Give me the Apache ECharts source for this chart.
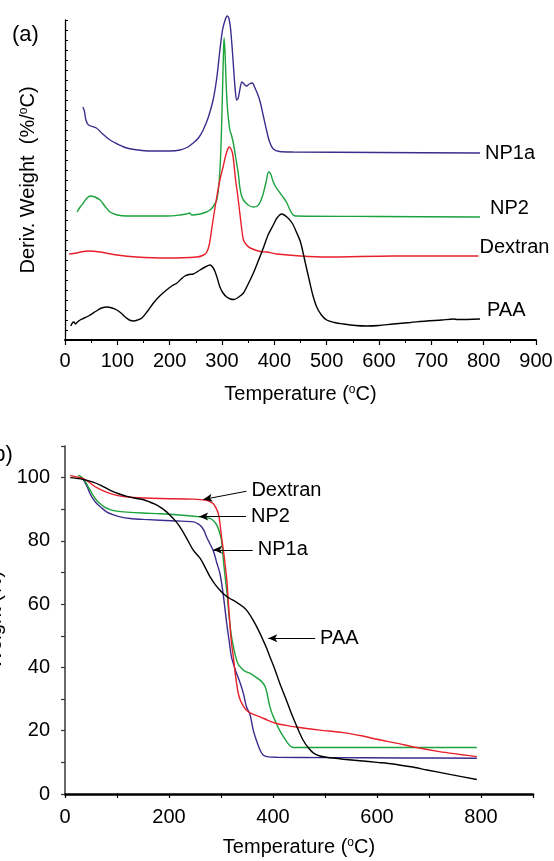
<!DOCTYPE html>
<html><head><meta charset="utf-8">
<script src="https://cdn.jsdelivr.net/npm/echarts@6/dist/echarts.min.js"></script>
<style>html,body{margin:0;padding:0;background:#fff;overflow:hidden}#c{width:554px;height:861px}</style>
</head><body><div id="c"></div>
<script>
const FONT = '"Liberation Sans", Arial, sans-serif';
const seriesNames = ['NP1a', 'NP2', 'Dextran', 'PAA'];
const seriesColors = ['#3d2c8d', '#1aa33c', '#e8202a', '#000000'];
const xTicksTop = [0, 100, 200, 300, 400, 500, 600, 700, 800, 900];
const xTicksBottom = [0, 200, 400, 600, 800];
const yTicksBottom = [0, 20, 40, 60, 80, 100];

// (a) derivative weight curves, vertically offset (arbitrary units)
const derivNP1a = [[34,23.3],[37,22.9],[40,22.0],[45,21.5],[60,21.2],[72,20.6],[86,20.0],[100,19.6],[118,19.2],[140,19.0],[162,18.9],[200,18.9],[220,19.0],[235,19.3],[245,19.7],[255,20.2],[264,21.0],[274,22.3],[283,24.0],[290,26.2],[296,29.0],[301,31.0],[306,32.0],[310,32.4],[313,32.2],[316,31.3],[319,29.5],[322,27.3],[325,25.2],[328,24.0],[331,24.2],[334,25.0],[338,25.8],[342,25.6],[347,25.4],[352,25.6],[358,25.7],[363,25.2],[368,24.6],[373,23.8],[379,22.4],[385,21.0],[391,19.8],[398,19.1],[410,18.85],[436,18.8],[600,18.75],[793,18.7]];
const derivNP2 = [[23,12.8],[29,13.3],[35,13.7],[42,14.2],[49,14.4],[57,14.3],[67,14.0],[76,13.4],[86,12.8],[100,12.5],[118,12.4],[194,12.4],[220,12.5],[232,12.6],[238,12.7],[242,12.5],[258,12.6],[270,12.8],[277,13.0],[284,13.4],[290,14.0],[294,15.5],[297,18.0],[299,21.0],[301,25.0],[303,29.0],[304,30.2],[306,28.5],[308,25.5],[310,23.5],[312,22.3],[315,21.0],[318,20.5],[322,19.6],[326,18.3],[331,16.7],[334,15.3],[337,14.5],[341,14.0],[350,13.5],[360,13.3],[368,13.4],[373,13.8],[378,14.5],[382,15.3],[385,16.0],[389,16.8],[393,16.6],[398,15.8],[404,15.2],[411,14.7],[418,14.2],[424,13.7],[430,13.0],[436,12.5],[442,12.4],[600,12.35],[793,12.3]];
const derivDextran = [[8,8.6],[22,8.7],[35,8.85],[45,8.9],[67,8.8],[99,8.5],[137,8.3],[194,8.2],[252,8.3],[265,8.5],[271,8.8],[276,9.6],[280,11.0],[285,12.7],[290,14.3],[296,16.0],[302,17.3],[309,18.8],[314,19.3],[320,18.7],[326,16.0],[330,14.5],[334,12.7],[338,11.0],[341,10.0],[347,9.5],[354,9.2],[373,8.85],[385,8.8],[405,8.6],[450,8.4],[500,8.3],[627,8.4],[790,8.4]];
const derivPAA = [[11,1.4],[14,1.7],[17,1.8],[20,1.6],[22,1.7],[26,1.9],[29,2.0],[37,2.2],[45,2.4],[60,2.9],[70,3.2],[80,3.3],[90,3.2],[99,3.0],[107,2.7],[115,2.3],[123,2.0],[131,1.9],[139,2.0],[147,2.2],[158,2.9],[169,3.7],[181,4.4],[194,5.0],[204,5.4],[214,5.7],[222,6.1],[229,6.4],[237,6.55],[245,6.6],[252,6.8],[258,7.0],[268,7.3],[277,7.5],[282,7.3],[287,6.8],[292,6.0],[296,5.3],[302,4.7],[309,4.3],[316,4.1],[323,4.05],[332,4.3],[341,4.7],[350,5.6],[360,6.7],[370,8.0],[379,9.2],[388,10.5],[398,11.5],[405,12.2],[414,12.6],[424,12.3],[434,11.7],[443,10.7],[450,9.8],[455,8.7],[461,7.3],[468,5.7],[474,4.4],[481,3.3],[490,2.5],[500,2.0],[515,1.75],[532,1.6],[555,1.45],[577,1.4],[600,1.45],[627,1.6],[660,1.75],[691,1.9],[720,2.0],[742,2.1],[750,2.05],[793,2.1]];

// (b) weight (%) curves
const tgaNP1a = [[29,100.2],[34,99.6],[38,98.6],[43,97.0],[48,95.0],[54,93.3],[61,91.8],[70,90.5],[80,89.2],[92,88.3],[106,87.6],[125,87.1],[151,86.8],[215,86.3],[247,86.0],[256,85.4],[263,84.4],[268,83.0],[273,81.0],[279,79.0],[286,76.5],[292,73.0],[298,69.7],[304,63.4],[311,53.9],[316,48.0],[320,43.4],[325,40.5],[330,38.1],[337,35.0],[343,31.8],[349,27.6],[356,25.0],[362,20.2],[368,17.0],[375,13.9],[381,12.3],[388,11.8],[407,11.6],[500,11.5],[650,11.4],[792,11.3]];
const tgaNP2 = [[25,100.7],[30,100.4],[35,99.7],[40,98.5],[45,97.0],[50,95.6],[54,94.4],[60,93.0],[67,91.8],[76,90.7],[87,89.9],[100,89.4],[119,89.1],[150,88.8],[183,88.6],[220,88.2],[260,87.6],[279,87.1],[286,86.3],[292,85.0],[297,82.8],[301,80.2],[304,75.0],[307,70.0],[311,64.4],[314,59.0],[317,53.9],[320,50.0],[324,46.5],[328,43.5],[333,41.0],[337,40.2],[345,38.9],[356,38.1],[365,37.2],[375,36.0],[381,35.0],[385,33.9],[388,32.2],[391,29.8],[394,27.6],[398,25.5],[404,23.2],[410,21.0],[420,18.1],[427,16.4],[433,15.2],[439,14.7],[460,14.7],[600,14.7],[792,14.7]];
const tgaDextran = [[10,100.7],[20,100.3],[35,99.7],[45,98.7],[54,97.6],[64,96.6],[74,95.8],[86,95.0],[99,94.4],[115,94.0],[131,93.7],[183,93.4],[247,93.2],[272,92.8],[280,92.3],[285,91.8],[290,90.5],[295,88.6],[298,85.5],[301,81.3],[305,76.5],[308,72.5],[311,68.0],[314,61.0],[317,53.9],[320,48.0],[324,43.0],[327,38.5],[330,35.0],[333,32.0],[337,29.7],[343,27.8],[349,26.5],[360,25.3],[375,24.4],[390,23.3],[407,22.3],[425,21.7],[446,21.1],[490,20.2],[535,19.4],[570,18.4],[600,17.3],[640,16.0],[676,14.7],[720,13.4],[760,12.5],[792,11.8]];
const tgaPAA = [[10,100.0],[30,99.6],[54,98.6],[70,97.5],[87,96.0],[103,94.9],[119,94.1],[135,93.5],[151,93.0],[163,92.3],[173,91.6],[183,90.7],[193,89.5],[202,88.1],[212,86.4],[221,84.4],[234,80.8],[247,77.0],[260,74.5],[270,71.5],[279,68.6],[289,66.2],[298,64.4],[308,62.8],[317,61.8],[330,60.6],[343,59.1],[352,57.5],[362,54.9],[372,51.8],[381,48.6],[388,46.0],[394,43.4],[404,39.2],[413,35.0],[423,30.8],[433,26.5],[439,24.0],[448,20.5],[458,17.0],[468,14.6],[478,12.9],[490,12.0],[503,11.6],[535,11.0],[567,10.5],[600,10.0],[631,9.5],[665,8.6],[696,7.6],[740,6.2],[792,4.6]];

// arrow annotations in (b): [tail temperature, tail weight, tip temperature, tip weight]
const arrowDextran = [349, 95.7, 266, 93.1];
const arrowNP2 = [348, 87.7, 258, 87.7];
const arrowNP1a = [361, 77.2, 285, 77.2];
const arrowPAA = [481, 49.2, 391, 49.2];

const derivData = [derivNP1a, derivNP2, derivDextran, derivPAA];
const tgaData = [tgaNP1a, tgaNP2, tgaDextran, tgaPAA];
const arrows = [arrowNP1a, arrowNP2, arrowDextran, arrowPAA];
const endOffsets = [[1, 0], [6, -9], [-3, -9], [3, -9]];

const sup = { sup: { fontSize: 12, verticalAlign: 'top', lineHeight: 12, padding: [0, 0, 6, 0], fontFamily: FONT, color: '#000' } };

const series = [];
seriesNames.forEach((n, i) => {
  series.push({
    name: n, type: 'line', xAxisIndex: 0, yAxisIndex: 0, data: derivData[i],
    showSymbol: false, smooth: 0.3, clip: false,
    lineStyle: { color: seriesColors[i], width: 1.4 },
    endLabel: { show: true, formatter: n, color: '#000', fontSize: 20, fontFamily: FONT, distance: 4, offset: endOffsets[i] },
    emphasis: { disabled: true }
  });
});
seriesNames.forEach((n, i) => {
  const a = arrows[i];
  series.push({
    name: n + ' TGA', type: 'line', xAxisIndex: 1, yAxisIndex: 1, data: tgaData[i],
    showSymbol: false, smooth: 0.3, clip: false,
    lineStyle: { color: seriesColors[i], width: 1.4 },
    emphasis: { disabled: true },
    markLine: {
      silent: true, symbol: ['none', 'arrow'], symbolSize: [6, 9],
      lineStyle: { color: '#000', width: 1, type: 'solid' },
      label: { show: true, position: 'start', formatter: n, color: '#000', fontSize: 20, fontFamily: FONT, distance: 5 },
      data: [[{ coord: [a[0], a[1]] }, { coord: [a[2], a[3]] }]]
    }
  });
});

const chart = echarts.init(document.getElementById('c'), null, { renderer: 'canvas' });
chart.setOption({
  animation: false,
  backgroundColor: '#fff',
  textStyle: { fontFamily: FONT },
  grid: [
    { left: 65, top: 20, width: 471, height: 320, containLabel: false, outerBoundsMode: 'none' },
    { left: 65, top: 446, width: 468, height: 348, containLabel: false, outerBoundsMode: 'none' }
  ],
  xAxis: [
    {
      gridIndex: 0, type: 'value', min: 0, max: 900, interval: 100,
      name: 'Temperature ({sup|o}C)', nameLocation: 'middle', nameGap: 44,
      nameTextStyle: { fontSize: 20, color: '#000', fontFamily: FONT, rich: sup },
      axisLine: { lineStyle: { color: '#000', width: 2 } },
      axisTick: { length: 5, lineStyle: { color: '#000', width: 1.2 } },
      minorTick: { show: true, splitNumber: 2, length: 3, lineStyle: { color: '#000', width: 1 } },
      axisLabel: { fontSize: 20, color: '#000', margin: 11, fontFamily: FONT,
        formatter: v => xTicksTop.includes(v) ? String(v) : '' },
      splitLine: { show: false }
    },
    {
      gridIndex: 1, type: 'value', min: 0, max: 900, interval: 100,
      name: 'Temperature ({sup|o}C)', nameLocation: 'middle', nameGap: 43,
      nameTextStyle: { fontSize: 20, color: '#000', fontFamily: FONT, rich: sup },
      axisLine: { lineStyle: { color: '#000', width: 2.6 } },
      axisTick: { length: 4, lineStyle: { color: '#000', width: 1.2 } },
      axisLabel: { fontSize: 20, color: '#000', margin: 13, fontFamily: FONT,
        formatter: v => xTicksBottom.includes(v) ? String(v) : '' },
      splitLine: { show: false }
    }
  ],
  yAxis: [
    {
      gridIndex: 0, type: 'value', min: 0, max: 32, interval: 1,
      name: 'Deriv. Weight  (%/{sup|o}C)', nameLocation: 'middle', nameGap: 27,
      nameTextStyle: { fontSize: 20, color: '#000', fontFamily: FONT, rich: sup },
      axisLine: { show: true, lineStyle: { color: '#000', width: 1.3 } },
      axisTick: { show: true, inside: true, length: 3, lineStyle: { color: '#000', width: 1 } },
      axisLabel: { show: false },
      splitLine: { show: false }
    },
    {
      gridIndex: 1, type: 'value', min: 0, max: 110, interval: 10,
      name: 'Weight (%)', nameLocation: 'middle', nameGap: 60,
      nameTextStyle: { fontSize: 20, color: '#000', fontFamily: FONT },
      axisLine: { show: true, lineStyle: { color: '#444', width: 1.6 } },
      axisTick: { show: true, length: 4, lineStyle: { color: '#333', width: 1.2 } },
      axisLabel: { fontSize: 20, color: '#000', margin: 15, fontFamily: FONT,
        formatter: v => yTicksBottom.includes(v) ? String(v) : '' },
      splitLine: { show: false }
    }
  ],
  graphic: [
    { type: 'text', x: 12, y: 35, style: { text: '(a)', fontSize: 22, fontFamily: FONT, fill: '#000', verticalAlign: 'middle' } },
    { type: 'text', x: -14, y: 455, style: { text: '(b)', fontSize: 22, fontFamily: FONT, fill: '#000', verticalAlign: 'middle' } }
  ],
  series: series
});
</script>
</body></html>
